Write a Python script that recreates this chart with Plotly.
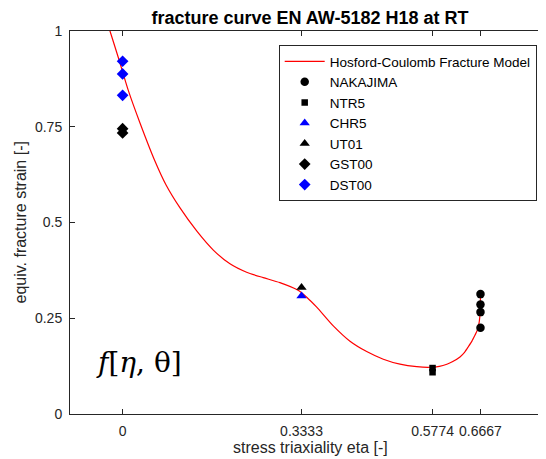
import plotly.graph_objects as go

# Hosford-Coulomb model curve
model_eta = [-0.03, -0.0235, -0.0067, 0.0106, 0.0324, 0.0604, 0.081, 0.107, 0.138, 0.169, 0.200,
             0.231, 0.262, 0.293, 0.327, 0.343, 0.3616, 0.3925, 0.4236, 0.4547, 0.4857,
             0.5168, 0.548, 0.5727, 0.590, 0.604, 0.615, 0.6285, 0.637, 0.644, 0.651,
             0.6565, 0.660, 0.6627, 0.6655, 0.6665, 0.6667]
model_eps = [1.03, 1.000, 0.925, 0.845, 0.760, 0.660, 0.598, 0.538, 0.478, 0.428, 0.392,
             0.370, 0.356, 0.343, 0.323, 0.305, 0.279, 0.230, 0.190, 0.163, 0.143,
             0.130, 0.1235, 0.122, 0.1245, 0.130, 0.137, 0.149, 0.161, 0.1755, 0.191,
             0.206, 0.216, 0.228, 0.254, 0.290, 0.310]

nakajima_eta = [0.6667, 0.6667, 0.6667, 0.6667]
nakajima_eps = [0.313, 0.286, 0.266, 0.225]
ntr5_eta = [0.5774, 0.5774]
ntr5_eps = [0.120, 0.109]
chr5_eta = [0.3333]
chr5_eps = [0.308]
ut01_eta = [0.3333]
ut01_eps = [0.330]
gst00_eta = [0.0, 0.0]
gst00_eps = [0.745, 0.734]
dst00_eta = [0.0, 0.0, 0.0]
dst00_eps = [0.921, 0.888, 0.832]

xtick_vals = [0, 0.3333, 0.5774, 0.6667]
xtick_text = ["0", "0.3333", "0.5774", "0.6667"]
ytick_vals = [0, 0.25, 0.5, 0.75, 1]
ytick_text = ["0", "0.25", "0.5", "0.75", "1"]

FONT = "Liberation Sans, Arial, sans-serif"
AX = "#262626"

fig = go.Figure()
fig.add_trace(go.Scatter(x=model_eta, y=model_eps, mode="lines", name="Hosford-Coulomb Fracture Model",
                         line=dict(color="#ff0000", width=1.2, shape="spline", smoothing=0.6)))
fig.add_trace(go.Scatter(x=nakajima_eta, y=nakajima_eps, mode="markers", name="NAKAJIMA",
                         marker=dict(symbol="circle", size=8.5, color="black")))
fig.add_trace(go.Scatter(x=ntr5_eta, y=ntr5_eps, mode="markers", name="NTR5",
                         marker=dict(symbol="square", size=6.5, color="black")))
fig.add_trace(go.Scatter(x=chr5_eta, y=chr5_eps, mode="markers", name="CHR5",
                         marker=dict(symbol="triangle-up", size=9, color="#0000ff")))
fig.add_trace(go.Scatter(x=ut01_eta, y=ut01_eps, mode="markers", name="UT01",
                         marker=dict(symbol="triangle-up", size=9, color="black")))
fig.add_trace(go.Scatter(x=gst00_eta, y=gst00_eps, mode="markers", name="GST00",
                         marker=dict(symbol="diamond", size=9, color="black")))
fig.add_trace(go.Scatter(x=dst00_eta, y=dst00_eps, mode="markers", name="DST00",
                         marker=dict(symbol="diamond", size=9, color="#0000ff")))

# page body has an 8px margin: figure origin sits at (8, 8) in the window
OFF = 8
W, H = 546 - OFF, 459 - OFF
PL, PT, PB, PR = 70, 31, 414, 546   # plot-area edges in window pixels
L, T, B, R = PL - OFF, PT - OFF, H - (PB - OFF), 0
PW, PH = PR - PL, PB - PT
x_left = (PL - 122.6) / 536.8
x_right = x_left + PW / 536.8

fig.update_layout(
    width=W, height=H,
    margin=dict(l=L, r=R, t=T, b=B),
    paper_bgcolor="white", plot_bgcolor="white",
    font=dict(family=FONT, color=AX, size=14),
    showlegend=True,
    title=dict(text="<b>fracture curve EN AW-5182 H18 at RT</b>", x=(310 - OFF) / W, xref="container",
               xanchor="center", y=1 - (18 - OFF) / H, yref="container", yanchor="middle",
               font=dict(family=FONT, size=18, color="black")),
    legend=dict(x=(536.7 - PL) / PW, xanchor="right", y=(PB - 45) / PH, yanchor="top",
                bgcolor="white", bordercolor=AX, borderwidth=1,
                font=dict(family=FONT, size=13.5, color="black"), itemwidth=40,
                tracegroupgap=0),
    xaxis=dict(range=[x_left, x_right], tickvals=xtick_vals, ticktext=xtick_text,
               showgrid=False, zeroline=False, showline=True, linecolor=AX, linewidth=1,
               mirror="ticks", ticks="inside", ticklen=5, tickcolor=AX,
               tickfont=dict(family=FONT, size=14, color=AX), ticklabelstandoff=4),
    yaxis=dict(range=[0, 1], tickvals=ytick_vals, ticktext=ytick_text,
               showgrid=False, zeroline=False, showline=True, linecolor=AX, linewidth=1,
               mirror=False, ticks="inside", ticklen=5, tickcolor=AX,
               tickfont=dict(family=FONT, size=14, color=AX), ticklabelstandoff=4),
    annotations=[
        dict(text="stress triaxiality eta [-]", xref="paper", yref="paper",
             x=(310 - PL) / PW, y=-(447 - PB) / PH, xanchor="center", yanchor="middle",
             showarrow=False, font=dict(family=FONT, size=16, color=AX)),
        dict(text="equiv. fracture strain [-]", xref="paper", yref="paper",
             x=-(PL - 20) / PW, y=0.5, xanchor="center", yanchor="middle", textangle=-90,
             showarrow=False, font=dict(family=FONT, size=16, color=AX)),
        dict(text="<i>f</i>[<i>η</i>, θ]", xref="paper", yref="paper",
             x=(139 - PL) / PW, y=(PB - 362) / PH, xanchor="center", yanchor="middle",
             showarrow=False, font=dict(family="DejaVu Serif, serif", size=28, color="black")),
    ],
)

fig.write_html("out.html")
